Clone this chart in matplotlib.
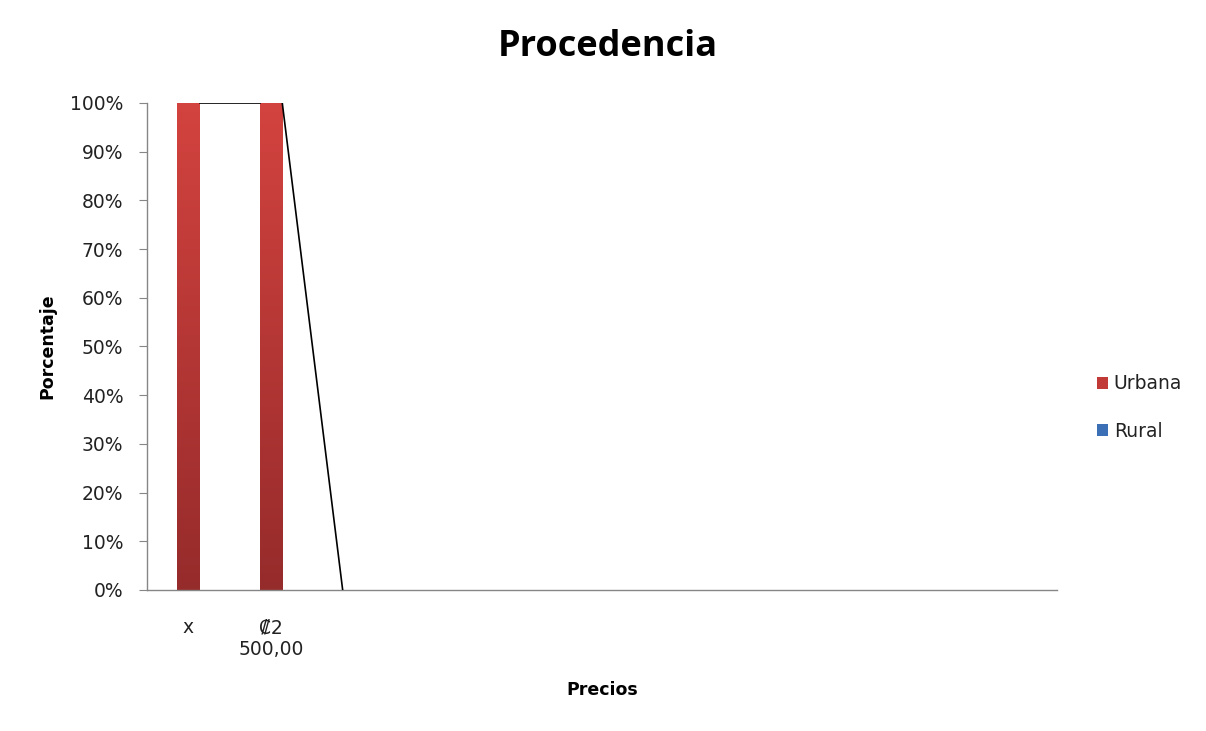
import matplotlib
matplotlib.use("Agg")
import matplotlib.pyplot as plt
import numpy as np
from matplotlib.colors import LinearSegmentedColormap
from matplotlib.patches import Patch

categories = ["x", "₡2\n500,00", "", "", "", "", "", "", "", "", ""]
urbana = [100, 100, 0, 0, 0, 0, 0, 0, 0, 0, 0]
rural = [0, 0, 0, 0, 0, 0, 0, 0, 0, 0, 0]
yticks = [0, 10, 20, 30, 40, 50, 60, 70, 80, 90, 100]

plt.rcParams['font.family'] = ['DejaVu Sans']

fig = plt.figure(figsize=(12.06, 7.31), dpi=100)
ax = fig.add_axes([0.1219, 0.1929, 0.7546, 0.6662])

x = np.arange(len(categories))
w = 0.27
red_cmap = LinearSegmentedColormap.from_list("r", ["#962B2B", "#D3433F"])
blue_cmap = LinearSegmentedColormap.from_list("b", ["#2E5E9E", "#4A83CC"])

bars_u = ax.bar(x, urbana, w, color="#C23A37", zorder=2)
bars_r = ax.bar(x, rural, w, bottom=urbana, color="#3B6FB6", zorder=2)

grad = np.linspace(0, 1, 256).reshape(-1, 1)
for bars, cmap in ((bars_u, red_cmap), (bars_r, blue_cmap)):
    for b in bars:
        h = b.get_height()
        if h <= 0:
            continue
        b.set_facecolor("none")
        x0 = b.get_x()
        y0 = b.get_y()
        im = ax.imshow(grad, cmap=cmap, origin="lower", aspect="auto",
                       extent=(x0, x0 + b.get_width(), y0, y0 + h), zorder=2)
        im.set_clip_path(b)

# series lines connecting stacked tops
tops = np.array(urbana) + np.array(rural)
for i in range(len(categories) - 1):
    if tops[i] == 0 and tops[i + 1] == 0:
        continue
    ax.plot([x[i] + w / 2, x[i + 1] - w / 2], [tops[i], tops[i + 1]],
            color="black", lw=1.2, zorder=3)

ax.set_xlim(-0.5, len(categories) - 0.5)
ax.set_ylim(0, 100)
ax.set_yticks(yticks)
ax.set_yticklabels([f"{v}%" for v in yticks])
ax.set_xticks(x)
ax.set_xticklabels(categories, linespacing=1.2)

for s in ["top", "right"]:
    ax.spines[s].set_visible(False)
for s in ["left", "bottom"]:
    ax.spines[s].set_color("#868686")
    ax.spines[s].set_linewidth(1.0)
ax.tick_params(axis="y", direction="out", length=6, color="#868686",
               labelsize=13.5, labelcolor="#222222", pad=11)
ax.tick_params(axis="x", length=0, labelsize=13.5, labelcolor="#222222", pad=20.5)

fig.text(608 / 1206, 1 - 47 / 731, "Procedencia", fontsize=26, fontweight="bold",
         family=["Open Sans", "DejaVu Sans"], ha="center", va="center")
ax.set_ylabel("Porcentaje", fontsize=12.5, fontweight="bold", va="center")
ax.yaxis.set_label_coords((47 - 147) / 910, 0.5)
ax.set_xlabel("Precios", fontsize=12.5, fontweight="bold", va="center")
ax.xaxis.set_label_coords(0.5, -(690 - 590) / 487)

handles = [Patch(facecolor="#C23A37", label="Urbana"),
           Patch(facecolor="#3B6FB6", label="Rural")]
fig.legend(handles=handles, loc="center left", bbox_to_anchor=(0.8955, 0.4425),
           frameon=False, fontsize=13.5, handlelength=0.6, handleheight=0.6,
           handletextpad=0.3, labelspacing=1.5, labelcolor="#222222")

fig.savefig("out.png", dpi=100)
